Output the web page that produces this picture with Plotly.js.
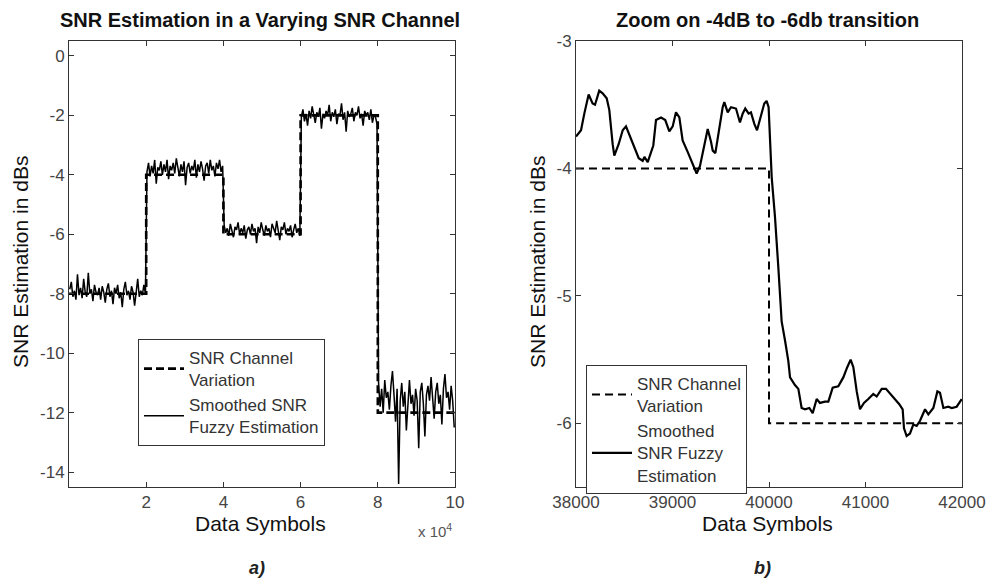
<!DOCTYPE html>
<html>
<head>
<meta charset="utf-8">
<script src="https://cdn.plot.ly/plotly-3.0.1.min.js"></script>
<style>html,body{margin:0;padding:0;background:#fff;}#chart{width:988px;height:579px;}</style>
</head>
<body>
<div id="chart"></div>
<script>
// ---- Panel a) : channel steps ----
var stepX = [0, 20000, 20000, 40000, 40000, 60000, 60000, 80000, 80000, 100000];
var stepY = [-8, -8, -4, -4, -6, -6, -2, -2, -12, -12];

// ---- Panel a) : smoothed fuzzy estimate, one array per 20000-symbol block ----
var segStarts = [0, 20000, 40000, 60000, 80000];
var seg1 = [-7.85,-7.6,-8.1,-7.9,-8.2,-7.35,-8.05,-7.8,-8.15,-7.5,-7.95,-8.1,-7.3,-8.0,-7.85,-8.25,-7.7,-7.95,-8.05,-7.8,-8.2,-7.75,-7.95,-8.3,-7.85,-7.65,-8.1,-7.9,-8.35,-7.8,-8.0,-7.7,-8.15,-7.95,-8.45,-7.85,-7.6,-8.05,-7.9,-8.2,-7.75,-7.95,-8.4,-7.85,-7.5,-8.1,-7.9,-8.05,-7.7,-8.0];
var seg2 = [-3.9,-3.6,-4.05,-3.7,-3.95,-3.5,-4.3,-3.75,-3.85,-3.55,-4.0,-3.65,-3.9,-3.5,-4.15,-3.7,-3.85,-3.6,-3.95,-3.45,-3.8,-4.05,-3.65,-3.9,-3.55,-4.35,-3.75,-3.6,-3.95,-3.7,-3.85,-3.5,-4.1,-3.65,-3.9,-3.55,-3.8,-4.2,-3.7,-3.6,-3.95,-3.5,-3.85,-3.7,-4.05,-3.6,-3.8,-3.5,-3.9,-3.7];
var seg3 = [-5.7,-5.95,-5.8,-6.05,-5.65,-5.9,-6.1,-5.75,-5.85,-5.6,-6.0,-5.8,-5.95,-5.7,-6.15,-5.85,-5.75,-6.0,-5.65,-5.9,-5.8,-6.3,-5.75,-5.95,-5.6,-5.85,-6.05,-5.7,-5.9,-5.8,-6.1,-5.65,-5.85,-5.95,-5.55,-5.9,-6.2,-5.75,-5.85,-5.6,-6.0,-5.8,-5.9,-5.7,-6.1,-5.85,-5.65,-5.95,-5.8,-6.05];
var seg4 = [-2.05,-1.8,-2.2,-1.95,-2.35,-1.85,-2.1,-1.7,-2.0,-2.25,-1.9,-2.05,-1.75,-2.45,-1.95,-2.1,-1.85,-2.0,-1.65,-2.2,-1.9,-2.05,-1.8,-2.3,-1.95,-2.0,-1.6,-2.15,-1.9,-2.55,-1.85,-2.05,-1.95,-1.75,-2.2,-1.9,-2.0,-1.7,-2.1,-1.95,-2.35,-1.85,-2.0,-1.9,-2.15,-1.8,-2.25,-2.0,-2.05,-2.3];
var seg5 = [-11.0,-11.8,-11.2,-12.0,-10.9,-11.5,-11.3,-11.9,-11.1,-10.6,-11.4,-12.3,-11.2,-14.4,-11.6,-11.0,-11.8,-11.3,-12.6,-11.5,-10.9,-11.7,-11.4,-12.1,-11.2,-11.6,-13.2,-11.3,-11.0,-11.7,-12.8,-11.4,-11.1,-11.6,-10.8,-11.5,-12.2,-11.3,-11.0,-11.7,-11.4,-12.4,-11.2,-10.7,-11.5,-11.3,-11.9,-11.1,-11.6,-12.5];
var segLen = 20000;

// ---- Panel b) : zoom on the -4 dB to -6 dB transition ----
var zStepX = [38000, 40000, 40000, 42000];
var zStepY = [-4, -4, -6, -6];
var zX = [38000,38052,38086,38131,38172,38197,38241,38276,38318,38345,38380,38397,38442,38484,38518,38553,38605,38650,38691,38709,38743,38760,38801,38829,38881,38925,38967,39002,39036,39071,39105,39157,39202,39250,39285,39330,39365,39399,39417,39444,39486,39520,39537,39572,39606,39658,39699,39727,39754,39789,39813,39848,39876,39907,39951,39975,39996,40028,40062,40097,40114,40131,40166,40200,40218,40269,40304,40338,40373,40418,40453,40494,40528,40580,40615,40660,40718,40770,40811,40846,40874,40909,40943,40984,41029,41081,41116,41168,41212,41261,41306,41350,41385,41399,41426,41461,41495,41530,41565,41617,41651,41703,41745,41772,41807,41858,41893,41945,41997];
var zY = [-3.75,-3.70,-3.57,-3.42,-3.49,-3.50,-3.39,-3.41,-3.45,-3.54,-3.81,-3.90,-3.81,-3.70,-3.67,-3.74,-3.83,-3.92,-3.94,-3.91,-3.95,-3.91,-3.82,-3.62,-3.60,-3.62,-3.71,-3.67,-3.56,-3.60,-3.78,-3.87,-3.96,-4.04,-3.98,-3.82,-3.69,-3.79,-3.86,-3.88,-3.67,-3.52,-3.48,-3.56,-3.52,-3.53,-3.64,-3.57,-3.53,-3.57,-3.56,-3.65,-3.70,-3.62,-3.49,-3.47,-3.52,-4.07,-4.38,-4.78,-4.99,-5.20,-5.35,-5.51,-5.64,-5.70,-5.73,-5.88,-5.89,-5.88,-5.92,-5.81,-5.84,-5.83,-5.83,-5.72,-5.71,-5.64,-5.56,-5.50,-5.56,-5.75,-5.89,-5.84,-5.81,-5.77,-5.79,-5.73,-5.73,-5.77,-5.81,-5.85,-5.89,-6.04,-6.10,-6.08,-6.01,-6.02,-5.98,-5.89,-5.93,-5.88,-5.75,-5.76,-5.88,-5.87,-5.88,-5.87,-5.81];

// ticks
var aYTicks = [0, -2, -4, -6, -8, -10, -12, -14];
var aYTickText = ['0', '-2', '-4', '-6', '-8', '-10', '-12', '-14'];
var aXTicks = [20000, 40000, 60000, 80000, 100000];
var aXTickText = ['2', '4', '6', '8', '10'];
var bYTicks = [-3, -4, -5, -6];
var bYTickText = ['-3', '-4', '-5', '-6'];
var bXTicks = [38000, 39000, 40000, 41000, 42000];
var bXTickText = ['38000', '39000', '40000', '41000', '42000'];

// build estimate series for panel a
var estX = [], estY = [];
[seg1, seg2, seg3, seg4, seg5].forEach(function (seg, k) {
  var step = segLen / seg.length;
  for (var i = 0; i < seg.length; i++) {
    estX.push(segStarts[k] + (i + 0.5) * step);
    estY.push(seg[i]);
  }
});

var FONT = 'Liberation Sans, Arial, sans-serif';
var W = 988, H = 579;
function px(x) { return x / W; }
function py(y) { return (H - y) / H; }

var traces = [
  { x: stepX, y: stepY, xaxis: 'x', yaxis: 'y', mode: 'lines', name: 'SNR Channel<br>Variation',
    line: { color: '#000', width: 2.6, dash: '8px,4px' }, legend: 'legend' },
  { x: estX, y: estY, xaxis: 'x', yaxis: 'y', mode: 'lines', name: 'Smoothed SNR<br>Fuzzy Estimation',
    line: { color: '#000', width: 1.5 }, legend: 'legend' },
  { x: zStepX, y: zStepY, xaxis: 'x2', yaxis: 'y2', mode: 'lines', name: 'SNR Channel<br>Variation',
    line: { color: '#000', width: 2, dash: '8px,5px' }, legend: 'legend2' },
  { x: zX, y: zY, xaxis: 'x2', yaxis: 'y2', mode: 'lines', name: 'Smoothed<br>SNR Fuzzy<br>Estimation',
    line: { color: '#000', width: 2.2 }, legend: 'legend2' }
];

var axisCommon = {
  showline: true, linecolor: '#333', linewidth: 1, mirror: 'ticks',
  ticks: 'inside', ticklen: 5, tickcolor: '#333', showgrid: false, zeroline: false,
  tickfont: { family: FONT, size: 17, color: '#444' }, fixedrange: true
};

var layout = {
  width: W, height: H,
  margin: { l: 0, r: 0, t: 0, b: 0 },
  paper_bgcolor: '#fff', plot_bgcolor: '#fff',
  font: { family: FONT, color: '#222' },
  xaxis: Object.assign({}, axisCommon, { domain: [px(69), px(455)], range: [0, 100000],
    tickmode: 'array', tickvals: aXTicks, ticktext: aXTickText, anchor: 'y' }),
  yaxis: Object.assign({}, axisCommon, { domain: [py(487), py(41)], range: [-14.5, 0.5],
    tickmode: 'array', tickvals: aYTicks, ticktext: aYTickText, anchor: 'x' }),
  xaxis2: Object.assign({}, axisCommon, { domain: [px(576), px(962)], range: [38000, 42000],
    tickmode: 'array', tickvals: bXTicks, ticktext: bXTickText, anchor: 'y2' }),
  yaxis2: Object.assign({}, axisCommon, { domain: [py(487), py(41)], range: [-6.5, -3],
    tickmode: 'array', tickvals: bYTicks, ticktext: bYTickText, anchor: 'x2' }),
  showlegend: true,
  legend: { x: px(138), y: py(339), xanchor: 'left', yanchor: 'top', bgcolor: '#fff',
    bordercolor: '#333', borderwidth: 1, font: { family: FONT, size: 17, color: '#333' },
    tracegroupgap: 0, itemwidth: 40 },
  legend2: { x: px(586), y: py(365), xanchor: 'left', yanchor: 'top', bgcolor: '#fff',
    bordercolor: '#333', borderwidth: 1, font: { family: FONT, size: 17, color: '#333' },
    tracegroupgap: 0, itemwidth: 40 },
  annotations: [
    { text: '<b>SNR Estimation in a Varying SNR Channel</b>', x: px(260), y: py(20), xref: 'paper', yref: 'paper',
      showarrow: false, xanchor: 'center', yanchor: 'middle', font: { family: FONT, size: 20, color: '#111' } },
    { text: '<b>Zoom on -4dB to -6db transition</b>', x: px(767), y: py(20), xref: 'paper', yref: 'paper',
      showarrow: false, xanchor: 'center', yanchor: 'middle', font: { family: FONT, size: 20, color: '#111' } },
    { text: 'SNR Estimation in dBs', x: px(20), y: py(262), xref: 'paper', yref: 'paper', textangle: -90,
      showarrow: false, xanchor: 'center', yanchor: 'middle', font: { family: FONT, size: 21, color: '#111' } },
    { text: 'SNR Estimation in dBs', x: px(537), y: py(262), xref: 'paper', yref: 'paper', textangle: -90,
      showarrow: false, xanchor: 'center', yanchor: 'middle', font: { family: FONT, size: 21, color: '#111' } },
    { text: 'Data Symbols', x: px(260), y: py(523), xref: 'paper', yref: 'paper',
      showarrow: false, xanchor: 'center', yanchor: 'middle', font: { family: FONT, size: 21, color: '#111' } },
    { text: 'Data Symbols', x: px(767), y: py(523), xref: 'paper', yref: 'paper',
      showarrow: false, xanchor: 'center', yanchor: 'middle', font: { family: FONT, size: 21, color: '#111' } },
    { text: 'x 10<sup>4</sup>', x: px(435), y: py(530), xref: 'paper', yref: 'paper',
      showarrow: false, xanchor: 'center', yanchor: 'middle', font: { family: FONT, size: 15, color: '#555' } },
    { text: '<b><i>a)</i></b>', x: px(257), y: py(568), xref: 'paper', yref: 'paper',
      showarrow: false, xanchor: 'center', yanchor: 'middle', font: { family: FONT, size: 18, color: '#222' } },
    { text: '<b><i>b)</i></b>', x: px(762), y: py(568), xref: 'paper', yref: 'paper',
      showarrow: false, xanchor: 'center', yanchor: 'middle', font: { family: FONT, size: 18, color: '#222' } }
  ]
};

Plotly.newPlot('chart', traces, layout, { staticPlot: true, displayModeBar: false });
</script>
</body>
</html>
